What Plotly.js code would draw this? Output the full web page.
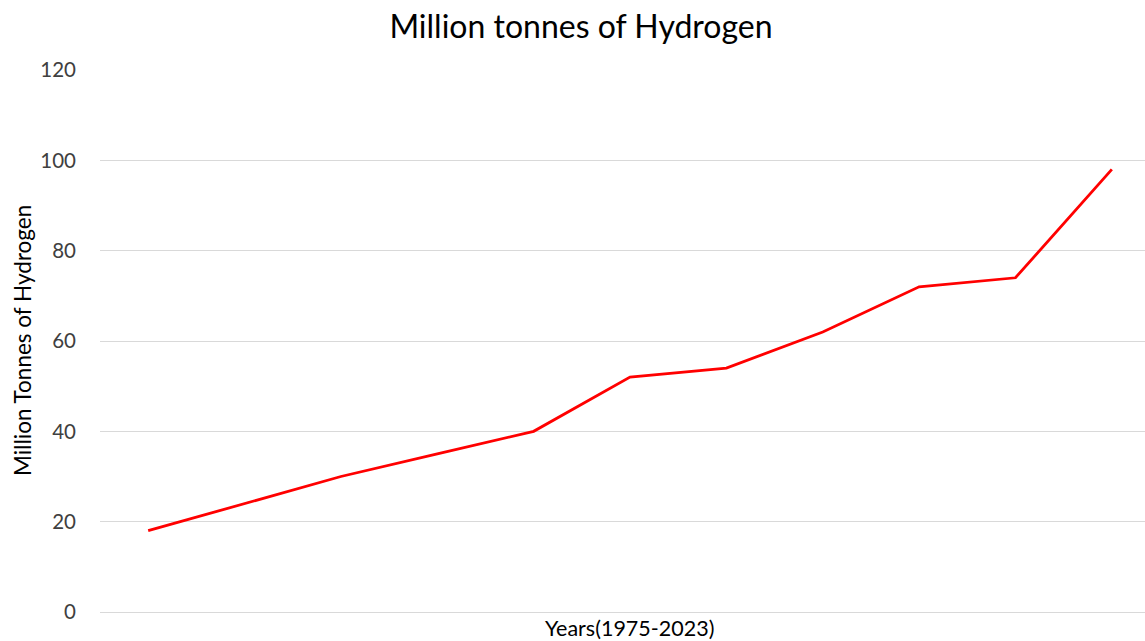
<!DOCTYPE html>
<html>
<head>
<meta charset="utf-8">
<script src="https://cdn.plot.ly/plotly-3.0.1.min.js"></script>
<style>
  html, body { margin: 0; padding: 0; background: #ffffff; }
  #chart { width: 1145px; height: 641px; }
</style>
</head>
<body>
<div id="chart"></div>
<script>
// Global hydrogen production, million tonnes
const years = ["1975", "1980", "1985", "1990", "1995", "2000", "2005", "2010", "2015", "2020", "2023"];
const hydrogenMt = [18, 24, 30, 35, 40, 52, 54, 62, 72, 74, 98];
const yTicks = [0, 20, 40, 60, 80, 100, 120];

const FONT = "Lato, 'Open Sans', sans-serif";

const trace = {
  type: "scatter",
  mode: "lines",
  x: years,
  y: hydrogenMt,
  line: { color: "#ff0000", width: 2.8 },
  hoverinfo: "x+y"
};

const layout = {
  width: 1145,
  height: 641,
  margin: { l: 100, r: 0, t: 70, b: 29 },
  paper_bgcolor: "#ffffff",
  plot_bgcolor: "#ffffff",
  showlegend: false,
  font: { family: FONT, color: "#000000" },
  title: {
    text: "Million tonnes of Hydrogen",
    font: { family: FONT, size: 32, color: "#000000" },
    x: 0.5074, xanchor: "center",
    y: 0.958, yanchor: "middle", yref: "container"
  },
  xaxis: {
    type: "category",
    range: [-0.5, 10.344],
    showticklabels: false,
    showgrid: false,
    zeroline: false,
    showline: false,
    ticks: ""
  },
  yaxis: {
    range: [0, 120],
    tickvals: yTicks,
    ticktext: yTicks.map(String),
    tickfont: { family: FONT, size: 20.5, color: "#404040" },
    showgrid: true,
    gridcolor: "#d9d9d9",
    gridwidth: 1,
    zeroline: true,
    zerolinecolor: "#d9d9d9",
    zerolinewidth: 1,
    showline: false,
    ticks: "",
    ticklabelstandoff: 23
  },
  annotations: [
    {
      text: "Years(1975-2023)",
      xref: "paper", yref: "paper",
      x: 0.507, y: -16 / 542,
      xanchor: "center", yanchor: "middle",
      showarrow: false,
      font: { family: FONT, size: 21.5, color: "#000000" }
    },
    {
      text: "Million Tonnes of Hydrogen",
      xref: "paper", yref: "paper",
      x: -78 / 1045, y: 0.5,
      xanchor: "center", yanchor: "middle",
      textangle: -90,
      showarrow: false,
      font: { family: FONT, size: 22.5, color: "#000000" }
    }
  ]
};

Plotly.newPlot("chart", [trace], layout, { displayModeBar: false, staticPlot: true });
</script>
</body>
</html>
